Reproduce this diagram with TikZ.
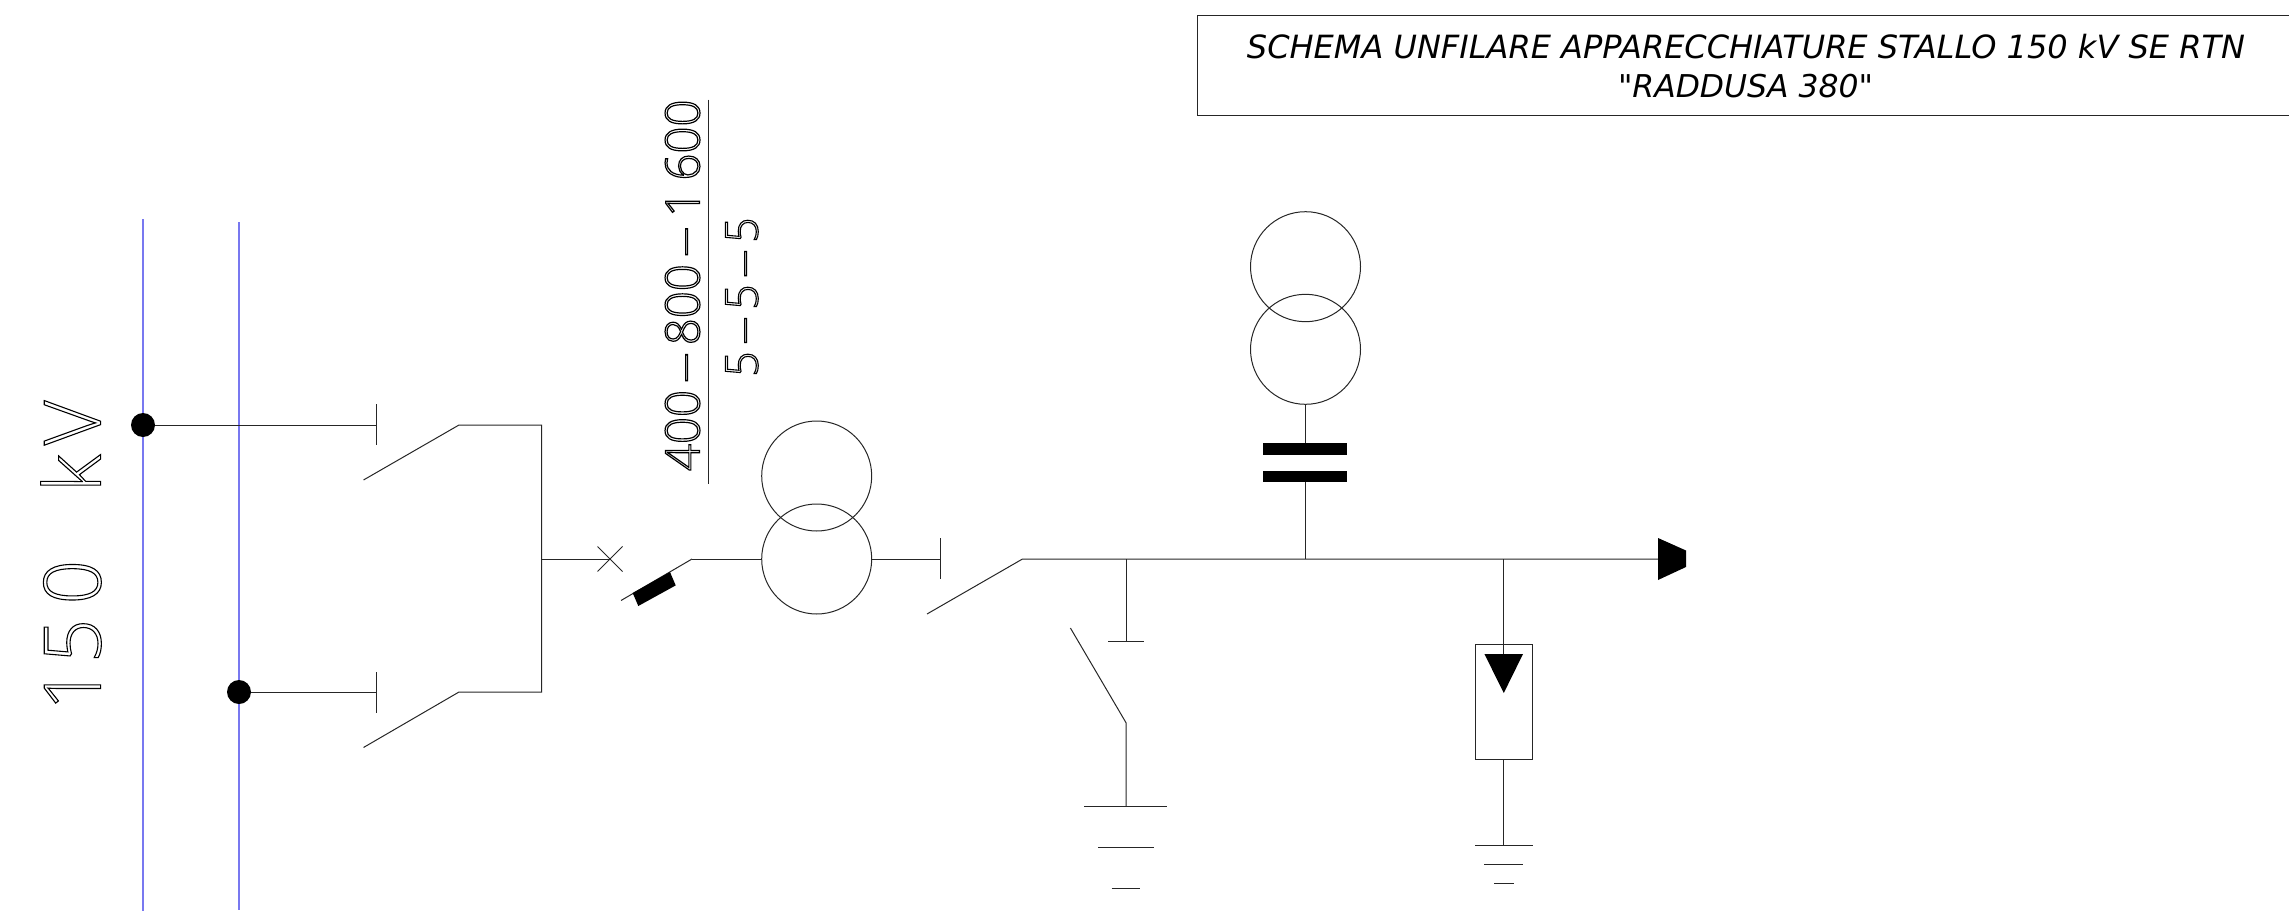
\documentclass[tikz,border=0pt]{standalone}
\usepackage{fontspec}
\usepackage{graphicx}
\newfontfamily\titlefont{DejaVu Sans}
\newfontfamily\cadfont{Open Sans Light}
\newcommand{\outl}[2]{\special{pdf:code 1 Tr #1 w}#2\special{pdf:code 0 Tr}}
\newcommand{\longdash}{\scalebox{1.3}[1]{–}}
\tikzset{
  wire/.style={line width=1pt,black!85},
  bus/.style={line width=2pt,color={rgb,255:red,120;green,120;blue,240}},
  ring/.style={circle,draw,line width=1pt,black!85,minimum size=110pt,inner sep=0pt,outer sep=0pt},
  dotnode/.style={circle,fill=black,minimum size=24pt,inner sep=0pt,outer sep=0pt},
  cadtext/.style={rotate=90,inner sep=0pt,outer sep=0pt,black,anchor=center}
}
\begin{document}
\begin{tikzpicture}[x=1pt,y=-1pt]
\useasboundingbox (0,0) rectangle (2289,923);
% title
\coordinate (tTR) at (2289,16);
\coordinate (tTL) at (1197,16);
\coordinate (tBL) at (1197,116);
\coordinate (tBR) at (2289,116);
\draw[wire] (tTR) -- (tTL) -- (tBL) -- (tBR);
\node[inner sep=0pt,align=center] (title1) at (1746,47) {\resizebox{998pt}{!}{\titlefont\itshape SCHEMA UNFILARE APPARECCHIATURE STALLO 150 kV SE RTN}};
\node[inner sep=0pt] (title2) at (1745.5,86) {\resizebox{255pt}{!}{\titlefont\itshape "RADDUSA 380"}};
% buses
\coordinate (b1t) at (143,219); \coordinate (b1b) at (143,911);
\coordinate (b2t) at (239,222); \coordinate (b2b) at (239,910);
\draw[bus] (b1t) -- (b1b);
\draw[bus] (b2t) -- (b2b);
\node[dotnode] (d1) at (143,425) {};
\node[dotnode] (d2) at (239,692) {};
% voltage label
\node[cadtext] (vlabel) at (71,555.6) {\resizebox{310pt}{60pt}{\cadfont\outl{0.14}{1\kern0.45pt5\kern1.85pt0\kern8.8ptk\kern1.2ptV}}};
% isolators
\coordinate (i1a) at (376.7,425); \coordinate (i1u) at (376.7,404); \coordinate (i1d) at (376.7,445);
\coordinate (i1s) at (363.5,480); \coordinate (i1e) at (459,425);
\coordinate (i2a) at (376.7,692); \coordinate (i2u) at (376.7,672); \coordinate (i2d) at (376.7,712.5);
\coordinate (i2s) at (363.5,747.5); \coordinate (i2e) at (459,692);
\coordinate (c1) at (541.6,425); \coordinate (c2) at (541.6,692); \coordinate (c3) at (541.6,559);
\draw[wire] (d1) -- (i1a);
\draw[wire] (i1u) -- (i1d);
\draw[wire] (i1s) -- (i1e) -- (c1) -- (c2) -- (i2e) -- (i2s);
\draw[wire] (d2) -- (i2a);
\draw[wire] (i2u) -- (i2d);
% breaker
\coordinate (x0) at (610,559);
\coordinate (xa) at (597.5,546.5); \coordinate (xb) at (622.5,571.5);
\coordinate (xc) at (597.5,571.5); \coordinate (xd) at (622.5,546.5);
\draw[wire] (c3) -- (x0);
\draw[wire] (xa) -- (xb);
\draw[wire] (xc) -- (xd);
\coordinate (bs) at (621,600.5); \coordinate (be) at (692,559);
\draw[wire] (bs) -- (be);
\fill (632.7,593) -- (670,572) -- (675.7,585.4) -- (638.3,606) -- cycle;
% CT
\node[ring] (t1u) at (816.7,476) {};
\node[ring] (t1l) at (816.7,559) {};
\draw[wire] (be) -- (t1l.west);
\coordinate (i3a) at (940,559); \coordinate (i3u) at (940,538); \coordinate (i3d) at (940,579);
\draw[wire] (t1l.east) -- (i3a);
\draw[wire] (i3u) -- (i3d);
% ratio text
\node[cadtext] (ratio1) at (682.5,285.3) {\resizebox{371.4pt}{34.5pt}{\cadfont\outl{0.25}{400\kern1.5pt\longdash\kern1.5pt800\kern1.5pt\longdash\kern2pt1\kern2pt600}}};
\coordinate (ra) at (708.5,99.6); \coordinate (rb) at (708.5,484);
\draw[wire] (ra) -- (rb);
\node[cadtext] (ratio2) at (741.8,297) {\resizebox{159pt}{32.5pt}{\cadfont\outl{0.25}{5\kern1.5pt\longdash\kern1.5pt5\kern1.5pt\longdash\kern1.5pt5}}};
% line
\coordinate (l0) at (927,614); \coordinate (l1) at (1022.5,559);
\coordinate (jg) at (1126,559); \coordinate (jv) at (1305.5,559); \coordinate (js) at (1503.8,559);
\coordinate (tip) at (1658,559);
\draw[wire] (l0) -- (l1) -- (tip);
\fill (1658,538) -- (1686,550.5) -- (1686,567) -- (1658,580) -- cycle;
% CVT
\node[ring] (t2u) at (1305.5,266.7) {};
\node[ring] (t2l) at (1305.5,349.3) {};
\coordinate (p1) at (1305.5,443); \coordinate (p2) at (1305.5,482);
\draw[wire] (t2l.south) -- (p1);
\fill (1263,443) rectangle (1347,454.5);
\fill (1263,471) rectangle (1347,482);
\draw[wire] (p2) -- (jv);
% earth switch
\coordinate (e1) at (1126,641.4);
\draw[wire] (jg) -- (e1);
\coordinate (e1a) at (1108,641.4); \coordinate (e1b) at (1143.5,641.4);
\draw[wire] (e1a) -- (e1b);
\coordinate (eb) at (1070.4,628); \coordinate (ej) at (1126,722.7); \coordinate (eg) at (1126,806.4);
\draw[wire] (eb) -- (ej) -- (eg);
\coordinate (g1a) at (1084,806.4); \coordinate (g1b) at (1167,806.4);
\coordinate (g2a) at (1098,847.5); \coordinate (g2b) at (1153.5,847.5);
\coordinate (g3a) at (1111.7,888.6); \coordinate (g3b) at (1140,888.6);
\draw[wire] (g1a) -- (g1b);
\draw[wire] (g2a) -- (g2b);
\draw[wire] (g3a) -- (g3b);
% surge arrester
\node[draw,wire,minimum width=57.5pt,minimum height=115pt,inner sep=0pt,outer sep=0pt] (sa) at (1503.8,701.5) {};
\coordinate (st) at (1503.8,654);
\draw[wire] (js) -- (st);
\fill (1484.4,654) -- (1523,654) -- (1503.8,693) -- cycle;
\coordinate (sg) at (1503.8,845);
\draw[wire] (sa.south) -- (sg);
\coordinate (h1a) at (1475,845); \coordinate (h1b) at (1532.5,845);
\coordinate (h2a) at (1484.4,864); \coordinate (h2b) at (1523,864);
\coordinate (h3a) at (1494.3,883); \coordinate (h3b) at (1513.7,883);
\draw[wire] (h1a) -- (h1b);
\draw[wire] (h2a) -- (h2b);
\draw[wire] (h3a) -- (h3b);
\end{tikzpicture}
\end{document}
